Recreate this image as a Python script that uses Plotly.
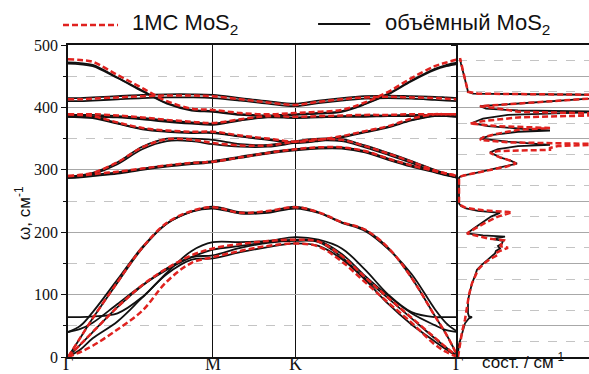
import plotly.graph_objects as go

# ---------------- data ----------------
# k-path coordinates of the sampled nodes (Γ-M-K-Γ)
k_nodes = [0.000, 0.050, 0.100, 0.200, 0.300, 0.400, 0.500, 0.586, 0.697, 0.808,
           0.919, 1.013, 1.107, 1.201, 1.295, 1.389, 1.483, 1.530, 1.577]
k_ticks = [0.0, 0.586, 0.919, 1.577]
k_labels = ["Γ", "M", "K", "Γ"]

# monolayer (1МС) bands, cm^-1
ml_za = [0, 8, 18, 44, 74, 121, 151, 160, 170, 178, 182, 177, 153, 120, 87, 55, 20, 8, 0]
ml_ta = [0, 20, 40, 80, 115, 142, 163, 174, 181, 186, 188, 185, 162, 128, 95, 63, 31, 15, 0]
ml_la = [0, 31, 62, 120, 175, 215, 234, 240, 231, 234, 240, 232, 216, 204, 175, 127, 66, 36, 0]
ml_o1 = [290, 291, 293, 297, 302, 307, 311, 313, 320, 327, 333, 336, 336, 330, 318, 307, 298, 294, 290]
ml_o2 = [290, 292, 295, 312, 336, 349, 348, 343, 339, 339, 345, 349, 348, 338, 326, 313, 299, 294, 290]
ml_o3 = [389, 388, 386, 376, 367, 363, 361, 361, 355, 350, 345, 348, 354, 362, 370, 382, 389, 389, 389]
ml_o4 = [389, 389, 389, 387, 384, 380, 377, 375, 381, 386, 385, 386, 387, 388, 388, 389, 389, 389, 389]
ml_o5 = [477, 476, 473, 452, 431, 410, 398, 396, 391, 389, 391, 393, 396, 408, 425, 447, 466, 472, 477]
ml_o6 = [413, 413, 414, 416, 418, 419, 419, 418, 413, 408, 404, 409, 413, 416, 417, 416, 415, 414, 413]

# bulk (объёмный) bands, cm^-1
bk_za = [0, 12, 30, 57, 95, 133, 156, 158, 168, 176, 182, 178, 157, 124, 85, 52, 25, 12, 0]
bk_ta = [0, 20, 40, 80, 114, 142, 160, 163, 175, 183, 186, 184, 160, 126, 94, 62, 30, 15, 0]
bk_la = [0, 31, 62, 119, 174, 214, 233, 241, 232, 233, 241, 232, 216, 204, 175, 127, 66, 36, 0]
bk_sh1 = [40, 45, 55, 85, 115, 140, 160, 172, 178, 184, 188, 186, 165, 130, 98, 70, 51, 43, 40]
bk_sh2 = [40, 50, 72, 124, 176, 214, 233, 238, 230, 231, 238, 231, 215, 202, 173, 133, 77, 54, 40]
bk_br = [64, 64, 65, 70, 96, 135, 170, 184, 184, 186, 192, 188, 174, 140, 100, 72, 64, 64, 64]
bk_o1a = [287, 288, 290, 294, 300, 305, 309, 312, 319, 326, 331, 334, 334, 328, 316, 305, 296, 291, 287]
bk_o1b = [289, 290, 292, 296, 302, 307, 311, 314, 321, 328, 333, 336, 336, 330, 318, 307, 298, 293, 289]
bk_o2a = [287, 289, 293, 309, 333, 346, 346, 341, 337, 337, 343, 347, 346, 336, 324, 311, 297, 292, 287]
bk_o2b = [289, 291, 295, 312, 337, 350, 350, 348, 341, 340, 346, 350, 349, 339, 327, 314, 300, 294, 289]
bk_o3a = [385, 384, 383, 374, 365, 361, 359, 359, 353, 348, 343, 346, 352, 360, 368, 379, 386, 386, 385]
bk_o3b = [388, 387, 385, 375, 366, 362, 360, 360, 354, 349, 344, 347, 353, 361, 369, 380, 387, 388, 388]
bk_o4a = [385, 385, 385, 384, 381, 377, 374, 372, 379, 384, 383, 384, 385, 385, 386, 386, 386, 386, 385]
bk_o4b = [388, 388, 388, 386, 383, 379, 376, 374, 380, 385, 384, 385, 386, 387, 387, 388, 388, 388, 388]
bk_o5a = [472, 471, 468, 448, 427, 407, 396, 394, 389, 387, 389, 391, 394, 406, 422, 443, 462, 468, 472]
bk_o5b = [470, 469, 466, 447, 426, 406, 395, 393, 388, 386, 388, 390, 393, 405, 421, 442, 460, 466, 470]
bk_o6a = [415, 415, 416, 418, 420, 421, 421, 420, 415, 410, 406, 411, 415, 418, 419, 418, 417, 416, 415]
bk_o6b = [410, 410, 411, 413, 415, 416, 416, 415, 411, 406, 402, 407, 411, 414, 415, 414, 412, 411, 410]

# phonon density of states (arbitrary units) vs frequency
dos_bk_freq = [0, 6, 20, 38, 54, 62, 64, 65, 70, 80, 91, 105, 118, 130, 140, 148, 155, 161, 166, 170,
               174, 178, 182, 186, 189, 191, 193, 195, 198, 205, 215, 225, 231, 234, 238, 242, 246,
               287, 289, 291, 295, 300, 305, 310, 315, 320, 328, 333, 338, 340, 342, 345, 350, 356,
               361, 363, 365, 370, 375, 382, 388, 391, 393, 395, 398, 402, 414, 418, 420, 422,
               425, 432, 444, 455, 470, 479]
dos_bk_val = [0, 0, 1, 4, 7, 11, 14, 11, 10, 10, 10, 12, 14, 17, 19, 24, 29, 33, 37, 38,
              42, 40, 44, 45, 35, 40, 47, 25, 9, 15, 24, 33, 42, 20, 8, 3, 1,
              1, 2, 6, 18, 32, 48, 59, 52, 42, 32, 40, 60, 92, 75, 50, 22, 35,
              60, 92, 70, 30, 14, 25, 50, 100, 150, 60, 28, 22, 131, 150, 150, 15,
              10, 9, 7, 5, 3, 2]

dos_ml_freq = [0, 10, 20, 40, 60, 80, 100, 118, 130, 140, 150, 158, 162, 166, 170, 175, 178, 183,
               187, 190, 194, 198, 205, 215, 225, 232, 235, 239, 243, 246,
               287, 289, 291, 295, 300, 305, 310, 315, 320, 327, 330, 332, 335, 338, 341, 344,
               348, 352, 358, 364, 367, 370, 374, 378, 384, 387, 390, 393, 396, 402, 414,
               418, 420, 422, 425, 432, 444, 455, 470, 479]
dos_ml_val = [0, 1, 2, 4, 7, 9, 11, 14, 17, 20, 26, 33, 38, 37, 42, 50, 42, 45,
              46, 30, 20, 9, 16, 27, 40, 54, 25, 8, 3, 1,
              1, 2, 6, 18, 32, 48, 58, 52, 42, 32, 40, 92, 92, 100, 150, 50,
              22, 25, 40, 60, 92, 40, 12, 25, 60, 131, 150, 60, 50, 22, 131,
              150, 150, 20, 10, 9, 7, 5, 3, 2]

ml_bands = [ml_za, ml_ta, ml_la, ml_o1, ml_o2, ml_o3, ml_o4, ml_o5, ml_o6]
bk_bands = [bk_za, bk_ta, bk_la, bk_sh1, bk_sh2, bk_br, bk_o1a, bk_o1b, bk_o2a, bk_o2b,
            bk_o3a, bk_o3b, bk_o4a, bk_o4b, bk_o5a, bk_o5b, bk_o6a, bk_o6b]

RED = "#e0221f"
BLACK = "#111111"
SERIF = "Liberation Serif"
SANS = "Liberation Sans"

fig = go.Figure()

for b in bk_bands:
    fig.add_trace(go.Scatter(x=k_nodes, y=b, mode="lines", xaxis="x", yaxis="y",
                             line=dict(color=BLACK, width=1.8, shape="spline"),
                             showlegend=False, hoverinfo="skip"))
for b in ml_bands:
    fig.add_trace(go.Scatter(x=k_nodes, y=b, mode="lines", xaxis="x", yaxis="y",
                             line=dict(color=RED, width=2.5, shape="spline", dash="6px,3px"),
                             showlegend=False, hoverinfo="skip"))

fig.add_trace(go.Scatter(x=dos_bk_val, y=dos_bk_freq, mode="lines", xaxis="x2", yaxis="y2",
                         line=dict(color=BLACK, width=1.8), showlegend=False, hoverinfo="skip"))
fig.add_trace(go.Scatter(x=dos_ml_val, y=dos_ml_freq, mode="lines", xaxis="x2", yaxis="y2",
                         line=dict(color=RED, width=2.5, dash="6px,3px"), showlegend=False,
                         hoverinfo="skip"))

split = 390 / 521

# k-point labels below the axis (as annotations so they sit tight under the axis)
k_label_annotations = [
    dict(text=lab, x=kv, xref="x", yref="paper", y=-0.023, xanchor="center", yanchor="middle",
         showarrow=False, font=dict(family=SERIF, size=18, color=BLACK))
    for kv, lab in zip(k_ticks, k_labels)
]

fig.update_layout(
    width=589, height=374,
    margin=dict(l=68, r=0, t=45, b=17, autoexpand=False),
    paper_bgcolor="white", plot_bgcolor="white",
    xaxis=dict(domain=[0, split], range=[0, 1.577], tickvals=k_ticks, ticktext=k_labels,
               automargin=False, showticklabels=False,
               showgrid=True, gridcolor=BLACK, gridwidth=1, zeroline=False,
               showline=True, linecolor=BLACK, linewidth=1.5, mirror=True, ticks=""),
    yaxis=dict(domain=[0, 1], range=[0, 500], dtick=100, tick0=0, anchor="x", automargin=False,
               showgrid=True, gridcolor="#a8a8a8", gridwidth=1, zeroline=False,
               showline=True, linecolor=BLACK, linewidth=1.5,
               ticks="outside", ticklen=5, tickcolor=BLACK,
               tickfont=dict(family=SERIF, size=16, color=BLACK),
               minor=dict(dtick=50, tick0=0, ticks="outside", ticklen=3, tickcolor=BLACK,
                          showgrid=True, gridcolor="#c4c4c4", griddash="dash", gridwidth=1)),
    xaxis2=dict(domain=[split, 1], range=[0, 131], anchor="y2", showgrid=False, zeroline=False,
                automargin=False,
                showline=True, linecolor=BLACK, linewidth=1.5, mirror=True,
                showticklabels=False, ticks=""),
    yaxis2=dict(domain=[0, 1], range=[0, 500], dtick=50, tick0=0, anchor="x2", automargin=False,
                showgrid=True, gridcolor="#a8a8a8", gridwidth=1, zeroline=False,
                showline=True, linecolor=BLACK, linewidth=1.5, showticklabels=False,
                ticks="outside", ticklen=5, tickcolor=BLACK,
                minor=dict(dtick=25, tick0=0, ticks="", showgrid=True,
                           gridcolor="#c4c4c4", griddash="dash", gridwidth=1)),
    shapes=[
        dict(type="line", xref="paper", yref="paper", x0=-0.0096, x1=0.096, y0=1.064, y1=1.064,
             line=dict(color=RED, width=2.5, dash="6px,3px")),
        dict(type="line", xref="paper", yref="paper", x0=0.48, x1=0.58, y0=1.067, y1=1.067,
             line=dict(color=BLACK, width=2)),
    ],
    annotations=k_label_annotations + [
        dict(text="1МС MoS<sub>2</sub>", xref="paper", yref="paper", x=0.119, y=1.067,
             xanchor="left", yanchor="middle", showarrow=False,
             font=dict(family=SANS, size=22, color=BLACK)),
        dict(text="объёмный MoS<sub>2</sub>", xref="paper", yref="paper", x=0.6046, y=1.067,
             xanchor="left", yanchor="middle", showarrow=False,
             font=dict(family=SANS, size=22, color=BLACK)),
        dict(text="ω, см<sup>-1</sup>", xref="paper", yref="paper", x=-0.0864, y=0.4615,
             xanchor="center", yanchor="middle", textangle=-90, showarrow=False,
             font=dict(family=SANS, size=17, color=BLACK)),
        dict(text="сост. / см<sup>-1</sup>", xref="paper", yref="paper", x=0.7908, y=-0.0535,
             xanchor="left", yanchor="bottom", showarrow=False,
             font=dict(family=SANS, size=17, color=BLACK)),
    ],
)

fig.write_html("out.html", config={"displayModeBar": False},
               post_script="document.body.style.margin='0';document.body.style.overflow='hidden';")
